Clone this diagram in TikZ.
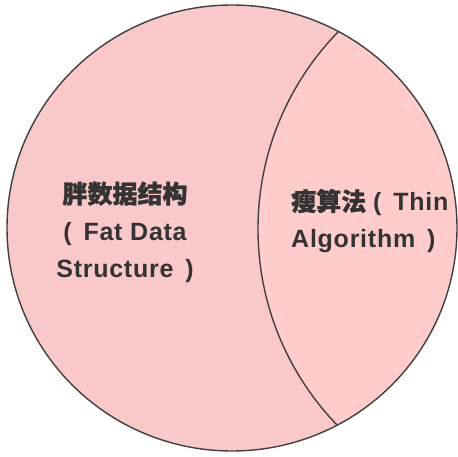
\documentclass[tikz,border=0pt]{standalone}
\usepackage{fontspec}
\setmainfont{Liberation Sans}[LetterSpace=3]
\newfontfamily\cjk{Noto Sans CJK SC Bold}[FakeBold=1]
\definecolor{leftpink}{HTML}{F9C9C9}
\definecolor{rightpink}{HTML}{FFCCCC}
\definecolor{edge}{HTML}{404040}
\definecolor{txt}{HTML}{333333}
\begin{document}
\begin{tikzpicture}[x=1pt,y=-1pt,
  lbl/.style={font=\bfseries\fontsize{25}{37}\selectfont, text=txt, inner sep=0pt}]
\useasboundingbox (0,0) rectangle (458,457);
\fill[leftpink] (232,228) ellipse [x radius=225, y radius=223];
\begin{scope}
  \clip (232,228) ellipse [x radius=225, y radius=223];
  \fill[rightpink] (540.5,229) circle [radius=282.5];
  \draw[edge, line width=1.4pt] (540.5,229) circle [radius=282.5];
\end{scope}
\draw[edge, line width=1.4pt] (232,228) ellipse [x radius=225, y radius=223];
\node[lbl, align=center] (fat) at (125,232) {{\cjk\fontsize{25}{37}\selectfont 胖数据结构}\\(\, Fat Data\\Structure \,)};
\node[lbl, align=left, anchor=west] (thin) at (291,221) {{\cjk\fontsize{25}{37}\selectfont 瘦算法}\hspace{7pt}(\, Thin\\Algorithm \,)};
\end{tikzpicture}
\end{document}
